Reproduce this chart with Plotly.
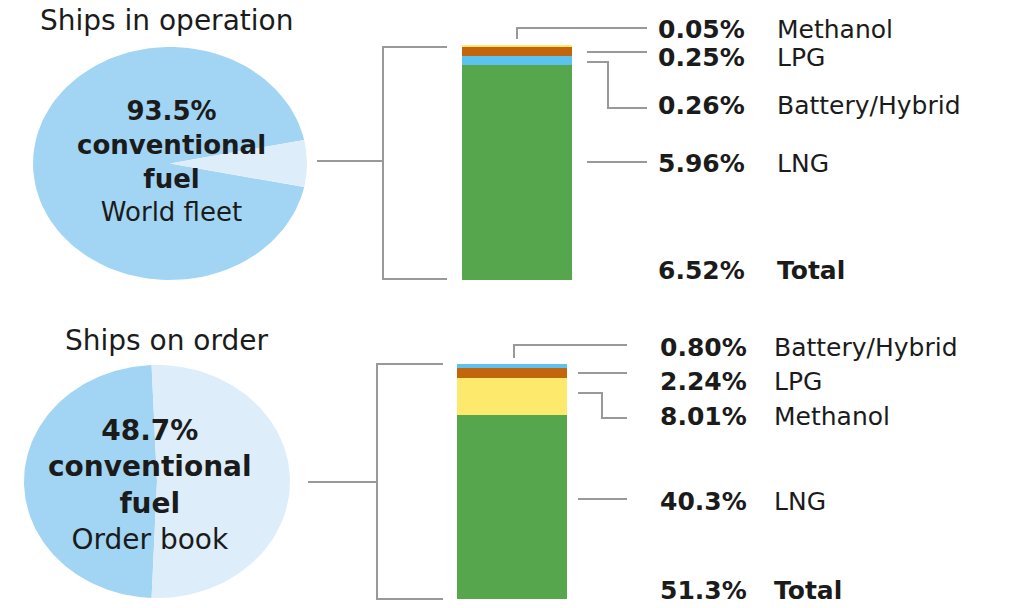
import numpy as np
import plotly.graph_objects as go

W, H = 1014, 608

# ---- data -------------------------------------------------------------
fuels_fleet = ["LNG", "Battery/Hybrid", "LPG", "Methanol"]
share_fleet = [5.96, 0.26, 0.25, 0.05]
total_fleet = 6.52
conventional_fleet = 93.5

fuels_order = ["LNG", "Methanol", "LPG", "Battery/Hybrid"]
share_order = [40.3, 8.01, 2.24, 0.80]
total_order = 51.3
conventional_order = 48.7

fuel_colors = {
    "LNG": "#55a64c",
    "Battery/Hybrid": "#5cc2ef",
    "LPG": "#c2650c",
    "Methanol": "#fde96c",
}
pie_dark = "#a1d5f3"
pie_light = "#ddedf9"
line_grey = "#999999"
ink = "#1b1b1b"
FONT = "DejaVu Sans"


def px(x, y):
    """pixel position -> paper coordinates"""
    return x / W, 1 - y / H


def dom_x(a, b):
    return [a / W, b / W]


def dom_y(top, bottom):
    return [1 - bottom / H, 1 - top / H]


fig = go.Figure()

# ---- stacked bars ------------------------------------------------------
for fuel, val in zip(fuels_fleet, share_fleet):
    fig.add_trace(go.Bar(x=[0], y=[val], width=1, name=fuel,
                         marker=dict(color=fuel_colors[fuel], line=dict(width=0)),
                         xaxis="x", yaxis="y", showlegend=False))
for fuel, val in zip(fuels_order, share_order):
    fig.add_trace(go.Bar(x=[0], y=[val], width=1, name=fuel,
                         marker=dict(color=fuel_colors[fuel], line=dict(width=0)),
                         xaxis="x2", yaxis="y2", showlegend=False))


# ---- elliptical pies drawn as filled wedges -----------------------------
def wedge(a0, a1, n=120):
    t = np.radians(np.linspace(a0, a1, n))
    xs = np.concatenate([[0], np.cos(t), [0]])
    ys = np.concatenate([[0], np.sin(t), [0]])
    return xs, ys


def add_pie(conv_pct, xa, ya):
    span = conv_pct / 100 * 360
    start = 180 - span / 2          # conventional share centred on the left
    xs, ys = wedge(start, start + span)
    fig.add_trace(go.Scatter(x=xs, y=ys, fill="toself", fillcolor=pie_dark,
                             mode="lines", line=dict(width=0, color=pie_dark),
                             xaxis=xa, yaxis=ya, showlegend=False, hoverinfo="skip"))
    xs, ys = wedge(start + span, start + 360)
    fig.add_trace(go.Scatter(x=xs, y=ys, fill="toself", fillcolor=pie_light,
                             mode="lines", line=dict(width=0, color=pie_light),
                             xaxis=xa, yaxis=ya, showlegend=False, hoverinfo="skip"))


add_pie(conventional_fleet, "x3", "y3")
add_pie(conventional_order, "x4", "y4")

hidden = dict(visible=False, showgrid=False, zeroline=False, fixedrange=True)
fig.update_layout(
    xaxis=dict(domain=dom_x(462, 572), range=[-0.5, 0.5], **hidden),
    yaxis=dict(domain=dom_y(45, 280), range=[0, sum(share_fleet)], **hidden),
    xaxis2=dict(domain=dom_x(457, 567), range=[-0.5, 0.5], anchor="y2", **hidden),
    yaxis2=dict(domain=dom_y(364, 599), range=[0, sum(share_order)], anchor="x2", **hidden),
    xaxis3=dict(domain=dom_x(33, 307), range=[-1, 1], anchor="y3", **hidden),
    yaxis3=dict(domain=dom_y(47, 280), range=[-1, 1], anchor="x3", **hidden),
    xaxis4=dict(domain=dom_x(24, 290), range=[-1, 1], anchor="y4", **hidden),
    yaxis4=dict(domain=dom_y(365, 598), range=[-1, 1], anchor="x4", **hidden),
)

# ---- connector lines and brackets --------------------------------------
paths = [
    # fleet bracket
    [(447, 47), (383, 47), (383, 279), (447, 279)],
    [(317, 161), (383, 161)],
    [(517, 39), (517, 28), (647, 28)],
    [(587, 52), (647, 52)],
    [(587, 62), (608, 62), (608, 108), (647, 108)],
    [(587, 162), (647, 162)],
    # order book bracket
    [(443, 364), (377, 364), (377, 599), (443, 599)],
    [(308, 482), (377, 482)],
    [(514, 358), (514, 345), (627, 345)],
    [(578, 373), (627, 373)],
    [(578, 393), (602, 393), (602, 418), (627, 418)],
    [(578, 499), (627, 499)],
]
shapes = []
for pts in paths:
    d = ""
    for i, (x, y) in enumerate(pts):
        X, Y = px(x, y)
        d += ("M" if i == 0 else "L") + f"{X:.5f},{Y:.5f} "
    shapes.append(dict(type="path", path=d, xref="paper", yref="paper",
                       line=dict(color=line_grey, width=2)))
fig.update_layout(shapes=shapes)

# ---- text ---------------------------------------------------------------
ann = []


def text(x, y, s, size, xanchor="left", bold=False, align="left"):
    X, Y = px(x, y)
    ann.append(dict(x=X, y=Y, xref="paper", yref="paper", text=(f"<b>{s}</b>" if bold else s),
                    showarrow=False, xanchor=xanchor, yanchor="middle", align=align,
                    font=dict(family=FONT, size=size, color=ink)))


text(166, 21, "Ships in operation", 28, xanchor="center")
text(166, 340, "Ships on order", 28, xanchor="center")

text(171, 161, f"<b>{conventional_fleet}%<br>conventional<br>fuel</b><br>World fleet", 26,
     xanchor="center", align="center")
text(150, 485, f"<b>{conventional_order}%<br>conventional<br>fuel</b><br>Order book", 28,
     xanchor="center", align="center")

LBL = 25
fleet_label_y = {"Methanol": 29, "LPG": 57, "Battery/Hybrid": 106, "LNG": 163}
for fuel, val in zip(fuels_fleet, share_fleet):
    yy = fleet_label_y[fuel]
    text(656, yy, f"{val:.2f}%", LBL, bold=True)
    text(775, yy, fuel, LBL)
text(656, 270, f"{total_fleet:.2f}%", LBL, bold=True)
text(775, 270, "<b>Total</b>", LBL)

order_label_y = {"Battery/Hybrid": 348, "LPG": 381, "Methanol": 416, "LNG": 501}
for fuel, val in zip(fuels_order, share_order):
    yy = order_label_y[fuel]
    label = f"{val:.2f}%" if val < 10 else f"{val:.1f}%"
    text(658, yy, label, LBL, bold=True)
    text(772, yy, fuel, LBL)
text(658, 590, f"{total_order:.1f}%", LBL, bold=True)
text(772, 590, "<b>Total</b>", LBL)

fig.update_layout(
    annotations=ann,
    barmode="stack",
    bargap=0,
    width=W, height=H,
    margin=dict(l=0, r=0, t=0, b=0),
    paper_bgcolor="white",
    plot_bgcolor="rgba(0,0,0,0)",
    showlegend=False,
)

fig.write_html("out.html")
